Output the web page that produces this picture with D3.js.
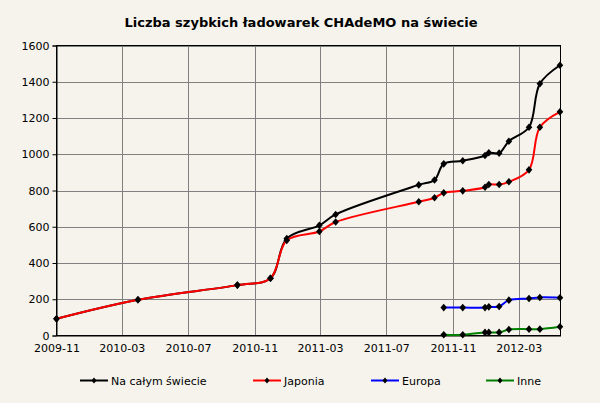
<!DOCTYPE html>
<html>
<head>
<meta charset="utf-8">
<script src="https://cdn.jsdelivr.net/npm/d3@7"></script>
<style>
  html, body { margin: 0; padding: 0; background: #f5f3ec; }
  svg { display: block; }
  text { font-family: "DejaVu Sans", Verdana, sans-serif; fill: #000; }
</style>
</head>
<body>
<svg id="chart" width="600" height="403"></svg>
<script>
const title = "Liczba szybkich ładowarek CHAdeMO na świecie";
const dates = ["2009-11-01","2010-03-31","2010-09-30","2010-11-30","2010-12-30","2011-02-28","2011-03-30","2011-08-30","2011-09-28","2011-10-15","2011-11-19","2011-12-30","2012-01-06","2012-01-25","2012-02-12","2012-03-20","2012-04-09","2012-05-16"];
const world  = [92,197,278,316,535,608,668,831,858,947,964,993,1008,1006,1072,1149,1389,1491];
const japan  = [92,197,278,316,525,574,626,738,760,787,798,818,833,833,848,914,1149,1234];
const europe = [null,null,null,null,null,null,null,null,null,154,154,154,158,160,195,204,210,208];
const others = [null,null,null,null,null,null,null,null,null,4,4,17,17,17,33,35,35,48];
const seriesNames = ["Na całym świecie","Japonia","Europa","Inne"];
const seriesColors = ["#000000","#ff0000","#0000ff","#008000"];
const xTickLabels = ["2009-11","2010-03","2010-07","2010-11","2011-03","2011-07","2011-11","2012-03"];
const yTicks = [0,200,400,600,800,1000,1200,1400,1600];
const xDomain = ["2009-11-01","2012-05-17"];

const parse = d3.timeParse("%Y-%m-%d");
const parseM = d3.timeParse("%Y-%m");
const svg = d3.select("#chart");
const L = 56.5, R = 560.5, T = 45.5, B = 335.5;

const x = d3.scaleTime().domain(xDomain.map(parse)).range([L, R]);
const y = d3.scaleLinear().domain([0, 1600]).range([B, T]);

// grid
const g = svg.append("g");
g.selectAll(".hg").data(yTicks.slice(1)).join("line")
  .attr("x1", L).attr("x2", R)
  .attr("y1", d => Math.round(y(d)) + 0.5).attr("y2", d => Math.round(y(d)) + 0.5)
  .attr("stroke", "#808080").attr("stroke-width", 1);
g.selectAll(".vg").data(xTickLabels.slice(1)).join("line")
  .attr("x1", d => Math.round(x(parseM(d))) + 0.5).attr("x2", d => Math.round(x(parseM(d))) + 0.5)
  .attr("y1", T).attr("y2", B)
  .attr("stroke", "#808080").attr("stroke-width", 1);

// frame
svg.append("rect").attr("x", L).attr("y", T).attr("width", R - L).attr("height", B - T)
  .attr("fill", "none").attr("stroke", "#000").attr("stroke-width", 1);

// y axis
const yAxis = d3.axisLeft(y).tickValues(yTicks).tickSize(4).tickPadding(3).tickFormat(d3.format("d"));
const ya = svg.append("g").attr("transform", `translate(${L},0)`).call(yAxis);
ya.select(".domain").attr("stroke", "#000");
ya.selectAll("text").style("font-size", "11px");

// x axis
const xAxis = d3.axisBottom(x).tickValues(xTickLabels.map(parseM)).tickSize(0).tickPadding(9)
  .tickFormat(d3.timeFormat("%Y-%m"));
const xa = svg.append("g").attr("transform", `translate(0,${B})`).call(xAxis);
xa.select(".domain").attr("stroke", "#000");
xa.selectAll("text").style("font-size", "11px");

// series
const allSeries = [world, japan, europe, others];
const line = d3.line()
  .defined(d => d.v != null)
  .x(d => x(d.t)).y(d => y(d.v))
  .curve(d3.curveCatmullRom.alpha(0.5));
const diamond = (cx, cy, rx, ry) => `M${cx},${cy - ry}L${cx + rx},${cy}L${cx},${cy + ry}L${cx - rx},${cy}Z`;

allSeries.forEach((vals, i) => {
  const data = dates.map((d, j) => ({ t: parse(d), v: vals[j] })).filter(d => d.v != null);
  svg.append("path").datum(data).attr("d", line)
    .attr("fill", "none").attr("stroke", seriesColors[i]).attr("stroke-width", 2)
    .attr("stroke-linejoin", "round");
  svg.append("g").selectAll("path").data(data).join("path")
    .attr("d", d => diamond(x(d.t), y(d.v), 3.3, 3.8))
    .attr("fill", "#000");
});

// title
svg.append("text").attr("x", 301).attr("y", 27).attr("text-anchor", "middle")
  .style("font-size", "13px").style("font-weight", "bold").text(title);

// legend
const legendX = [80, 253, 371, 486];
const ly = 380.5;
seriesNames.forEach((name, i) => {
  const lg = svg.append("g");
  lg.append("line").attr("x1", legendX[i]).attr("x2", legendX[i] + 28)
    .attr("y1", ly).attr("y2", ly).attr("stroke", seriesColors[i]).attr("stroke-width", 2);
  lg.append("path").attr("d", diamond(legendX[i] + 14, ly, 2.5, 3)).attr("fill", "#000");
  lg.append("text").attr("x", legendX[i] + 31).attr("y", ly + 4)
    .style("font-size", "11px").text(name);
});
</script>
</body>
</html>
